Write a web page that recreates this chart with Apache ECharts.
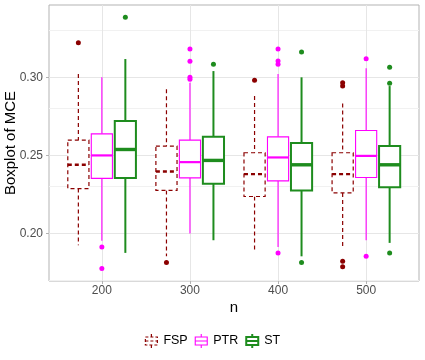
<!DOCTYPE html>
<html>
<head>
<meta charset="utf-8">
<script src="https://cdn.jsdelivr.net/npm/echarts@6/dist/echarts.min.js"></script>
<style>
  html, body { margin: 0; padding: 0; background: #fff; }
  #chart { width: 425px; height: 360px; }
</style>
</head>
<body>
<div id="chart"></div>
<script>
// sample sizes on the x axis
const nLabels = ['200', '300', '400', '500']
const groupNames = ['FSP', 'PTR', 'ST']

// box stats per n: [lower whisker, q1, median, q3, upper whisker]
const fspStats = [
  [0.1925, 0.2288, 0.2440, 0.2598, 0.3021],
  [0.1855, 0.2276, 0.2397, 0.2560, 0.2923],
  [0.1897, 0.2237, 0.2380, 0.2517, 0.2880],
  [0.1914, 0.2260, 0.2380, 0.2517, 0.2833]
]
const ptrStats = [
  [0.1953, 0.2353, 0.2500, 0.2638, 0.3000],
  [0.2000, 0.2356, 0.2457, 0.2598, 0.2965],
  [0.1914, 0.2337, 0.2487, 0.2619, 0.3021],
  [0.1957, 0.2359, 0.2497, 0.2660, 0.3058]
]
const stStats = [
  [0.1876, 0.2356, 0.2538, 0.2720, 0.3117],
  [0.1957, 0.2318, 0.2468, 0.2619, 0.3040],
  [0.1854, 0.2276, 0.2440, 0.2579, 0.3000],
  [0.1940, 0.2297, 0.2440, 0.2560, 0.2944]
]

// outliers: [n index, value]
const fspOutliers = [[0, 0.3222], [1, 0.1815], [2, 0.2981], [3, 0.2965], [3, 0.2945], [3, 0.1822], [3, 0.1788]]
const ptrOutliers = [[0, 0.1914], [0, 0.1776], [1, 0.3181], [1, 0.3103], [1, 0.3000], [1, 0.2987],
  [2, 0.3181], [2, 0.3104], [2, 0.3083], [2, 0.1876], [3, 0.3119], [3, 0.1854]]
const stOutliers = [[0, 0.3385], [1, 0.3083], [2, 0.3162], [2, 0.1814], [3, 0.3064], [3, 0.2962], [3, 0.1876]]

const yMajor = [0.20, 0.25, 0.30]
const yMinor = [0.175, 0.225, 0.275, 0.325]

const groups = [
  { name: 'FSP', stats: fspStats, outliers: fspOutliers, color: '#8B0000', width: 1.2, medWidth: 2.4, dash: [4, 3] },
  { name: 'PTR', stats: ptrStats, outliers: ptrOutliers, color: '#FF00FF', width: 1.1, medWidth: 2.2, dash: null },
  { name: 'ST', stats: stStats, outliers: stOutliers, color: '#1E8C1E', width: 2, medWidth: 3.4, dash: null }
]

// dodge: 0.8 wide per category, split in 3, boxes at 90% of slot
const slot = 0.8 / 3
const boxW = slot * 0.9

const boxIcon = 'path://M7 0V3M1 3H13V11H1ZM1 7H13M7 11V14'

const makeBoxRender = (offset, g) => (params, api) => {
  const x = api.value(0) + offset
  const tl = api.coord([x - boxW / 2, api.value(4)])
  const br = api.coord([x + boxW / 2, api.value(2)])
  const hi = api.coord([x, api.value(5)])
  const lo = api.coord([x, api.value(1)])
  const mL = api.coord([x - boxW / 2, api.value(3)])
  const mR = api.coord([x + boxW / 2, api.value(3)])
  const ls = { stroke: g.color, lineWidth: g.width, lineDash: g.dash, fill: null }
  return {
    type: 'group',
    children: [
      { type: 'line', shape: { x1: hi[0], y1: hi[1], x2: hi[0], y2: tl[1] }, style: ls },
      { type: 'line', shape: { x1: lo[0], y1: br[1], x2: lo[0], y2: lo[1] }, style: ls },
      { type: 'rect', shape: { x: tl[0], y: tl[1], width: br[0] - tl[0], height: br[1] - tl[1] },
        style: { stroke: g.color, lineWidth: g.width, lineDash: g.dash, fill: '#fff' } },
      { type: 'line', shape: { x1: mL[0], y1: mL[1], x2: mR[0], y2: mR[1] },
        style: { stroke: g.color, lineWidth: g.medWidth, lineDash: g.dash } }
    ]
  }
}

const series = []

// gridlines
series.push({
  type: 'line',
  data: [],
  silent: true,
  markLine: {
    silent: true,
    z: 1,
    symbol: ['none', 'none'],
    label: { show: false },
    animation: false,
    data: [
      ...yMinor.map(v => ({ yAxis: v, lineStyle: { color: '#f1f1f1', width: 1, type: 'solid' } })),
      ...yMajor.map(v => ({ yAxis: v, lineStyle: { color: '#e6e6e6', width: 1, type: 'solid' } })),
      ...nLabels.map((l, i) => ({ xAxis: i + 1, lineStyle: { color: '#e6e6e6', width: 1, type: 'solid' } }))
    ]
  }
})

groups.forEach((g, gi) => {
  const offset = (gi - 1) * slot
  series.push({
    name: g.name,
    type: 'custom',
    z: 2,
    itemStyle: { color: g.color },
    renderItem: makeBoxRender(offset, g),
    encode: { x: 0, y: [1, 2, 3, 4, 5] },
    data: g.stats.map((s, i) => [i + 1, ...s])
  })
  series.push({
    name: g.name,
    type: 'scatter',
    z: 3,
    symbolSize: 5,
    itemStyle: { color: g.color, opacity: 1 },
    data: g.outliers.map(([i, v]) => [i + 1 + offset, v])
  })
})

const chart = echarts.init(document.getElementById('chart'))
chart.setOption({
  animation: false,
  backgroundColor: '#fff',
  textStyle: { fontFamily: 'Liberation Sans, Arial, sans-serif' },
  grid: {
    left: 49, right: 6, top: 5, bottom: 79,
    outerBoundsMode: 'none',
    containLabel: false,
    show: true, backgroundColor: '#fff', borderColor: '#b3b3b3', borderWidth: 1
  },
  legend: {
    selectedMode: false,
    left: 'center',
    top: 328,
    itemWidth: 14,
    itemHeight: 14,
    itemGap: 7,
    textStyle: { fontSize: 12.5, color: '#000' },
    data: groups.map(g => ({
      name: g.name,
      icon: boxIcon,
      itemStyle: { color: '#fff', borderColor: g.color, borderWidth: g.width, borderType: g.dash ? [3, 2] : 'solid' }
    }))
  },
  xAxis: {
    type: 'value',
    min: 0.4,
    max: 4.6,
    name: 'n',
    nameLocation: 'middle',
    nameGap: 19,
    nameMoveOverlap: false,
    nameTextStyle: { fontSize: 15, color: '#000' },
    axisLine: { show: false },
    axisTick: { show: true, length: 3, customValues: [1, 2, 3, 4], lineStyle: { color: '#b3b3b3' } },
    axisLabel: {
      customValues: [1, 2, 3, 4],
      formatter: v => nLabels[Math.round(v) - 1],
      color: '#4d4d4d', fontSize: 12, margin: 4
    },
    splitLine: { show: false }
  },
  yAxis: {
    type: 'value',
    min: 0.1696,
    max: 0.3463,
    name: 'Boxplot of MCE',
    nameLocation: 'middle',
    nameRotate: 90,
    nameGap: 31,
    nameMoveOverlap: false,
    nameTextStyle: { fontSize: 15, color: '#000' },
    axisLine: { show: false },
    axisTick: { show: true, length: 3, customValues: yMajor, lineStyle: { color: '#b3b3b3' } },
    axisLabel: {
      customValues: yMajor,
      formatter: v => v.toFixed(2),
      color: '#4d4d4d', fontSize: 12, margin: 6
    },
    splitLine: { show: false }
  },
  series
})
</script>
</body>
</html>
